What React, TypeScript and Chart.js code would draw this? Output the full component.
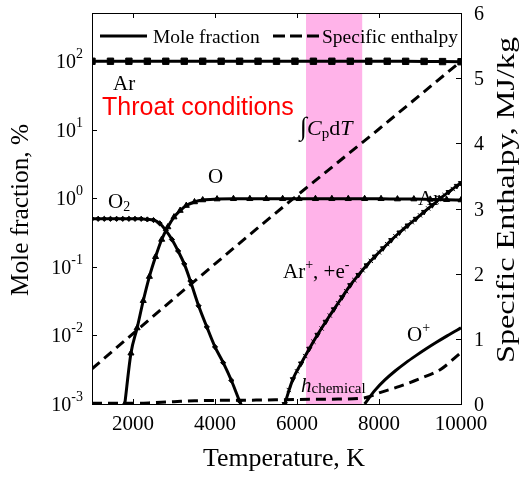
import React, { useEffect, useRef } from 'react';
import { Chart, registerables } from 'chart.js';

Chart.register(...registerables);

// ---------------- data ----------------
const bandRange = [6220, 7590];

const xTicks = [2000, 4000, 6000, 8000, 10000];
const leftExponents = [2, 1, 0, -1, -2, -3];
const rightTicks = [0, 1, 2, 3, 4, 5, 6];

const arTemp = [1000, 1450, 1900, 2350, 2800, 3250, 3700, 4150, 4600, 5050, 5500, 5950, 6400, 6850, 7300, 7750, 8200, 8650, 9100, 9550, 10000];
const arFrac = [99, 99, 99, 99, 99, 99, 99, 99, 99, 99, 99, 99, 99, 99, 99, 99, 99, 98.8, 98.5, 98, 97.5];

const o2Temp = [1000, 1150, 1300, 1450, 1600, 1750, 1900, 2050, 2200, 2350, 2500, 2650, 2800, 2950, 3100, 3250, 3400, 3600, 3800, 4000, 4200, 4400, 4600, 4800];
const o2Frac = [0.5, 0.5, 0.5, 0.5, 0.5, 0.5, 0.5, 0.5, 0.5, 0.49, 0.48, 0.43, 0.34, 0.25, 0.17, 0.11, 0.062, 0.027, 0.0133, 0.0068, 0.004, 0.0022, 0.0011, 0.0006];

const oTemp = [1800, 1950, 2100, 2250, 2400, 2550, 2700, 2850, 3000, 3150, 3300, 3500, 3700, 4050, 4450, 4850, 5250, 5650, 6050, 6450, 6850, 7250, 7650, 8050, 8450, 8850, 9250, 9650, 10000];
const oFrac = [0.001, 0.0055, 0.0128, 0.032, 0.072, 0.14, 0.25, 0.38, 0.53, 0.66, 0.78, 0.88, 0.94, 0.97, 0.98, 0.98, 0.98, 0.98, 0.98, 0.98, 0.98, 0.98, 0.98, 0.98, 0.97, 0.97, 0.96, 0.95, 0.94];

const arIonTemp = [5700, 5900, 6100, 6300, 6500, 6700, 6900, 7100, 7300, 7500, 7700, 7900, 8100, 8300, 8500, 8700, 8900, 9100, 9300, 9500, 9700, 9900, 10000];
const arIonFrac = [0.001, 0.0023, 0.0039, 0.0064, 0.0102, 0.0158, 0.024, 0.036, 0.054, 0.076, 0.105, 0.141, 0.186, 0.245, 0.316, 0.4, 0.5, 0.63, 0.79, 1.0, 1.23, 1.51, 1.66];

const elecTemp = [5800, 6000, 6200, 6400, 6600, 6800, 7000, 7200, 7400, 7600, 7800, 8000, 8200, 8400, 8600, 8800, 9000, 9200, 9400, 9600, 9800];
const elecFrac = [0.0016, 0.003, 0.005, 0.0081, 0.0126, 0.0195, 0.0295, 0.044, 0.064, 0.089, 0.122, 0.162, 0.214, 0.279, 0.355, 0.447, 0.562, 0.708, 0.89, 1.11, 1.36];

const oIonTemp = [7650, 7900, 8150, 8400, 8650, 8900, 9150, 9400, 9650, 9900, 10000];
const oIonFrac = [0.001, 0.00158, 0.00226, 0.00305, 0.00398, 0.00507, 0.00638, 0.00794, 0.00977, 0.0119, 0.0129];

const hTemp = [1000, 2000, 3000, 4000, 5000, 6000, 7000, 8000, 9000, 10000];
const hTotal = [0.54, 1.08, 1.62, 2.15, 2.68, 3.2, 3.71, 4.22, 4.74, 5.26];

const hcTemp = [1000, 2000, 2500, 3000, 3500, 4000, 5000, 6000, 7000, 7600, 7800, 8000, 8500, 9000, 9500, 10000];
const hChem = [0.01, 0.01, 0.02, 0.035, 0.05, 0.055, 0.06, 0.07, 0.075, 0.09, 0.12, 0.17, 0.27, 0.39, 0.53, 0.79];

// ---------------- helpers ----------------
const SERIF = '"Liberation Serif", "Times New Roman", serif';
const SANS = '"Liberation Sans", Arial, sans-serif';

const pts = (xs: number[], ys: number[]) => xs.map((x, i) => ({ x, y: ys[i] }));

type Seg = { t: string; size: number; italic?: boolean; dy?: number };
function rich(ctx: CanvasRenderingContext2D, x: number, y: number, segs: Seg[], measureOnly = false) {
  let cx = x;
  for (const s of segs) {
    ctx.font = `${s.italic ? 'italic ' : ''}${s.size}px ${SERIF}`;
    if (!measureOnly) ctx.fillText(s.t, cx, y + (s.dy || 0));
    cx += ctx.measureText(s.t).width;
  }
  return cx - x;
}

// draw text centred at (cx, cy), rotated, stretched along its direction to a target length
function fitText(ctx: CanvasRenderingContext2D, text: string, cx: number, cy: number, size: number, len: number, rot: number) {
  ctx.save();
  ctx.font = `${size}px ${SERIF}`;
  ctx.textAlign = 'center';
  ctx.textBaseline = 'middle';
  const w = ctx.measureText(text).width;
  ctx.translate(cx, cy);
  ctx.rotate(rot);
  ctx.scale(len / w, 1);
  ctx.fillText(text, 0, 0);
  ctx.restore();
}

const deco = {
  id: 'deco',
  beforeDatasetsDraw(chart: any) {
    const { ctx, chartArea: a, scales } = chart;
    const xs = scales.x;
    ctx.save();
    // throat band
    const x1 = xs.getPixelForValue(bandRange[0]);
    const x2 = xs.getPixelForValue(bandRange[1]);
    ctx.fillStyle = '#FFB3E9';
    ctx.fillRect(x1, a.top, x2 - x1, a.bottom - a.top);

    // annotations
    ctx.fillStyle = '#000';
    ctx.textAlign = 'left';
    ctx.textBaseline = 'alphabetic';
    const F = 21;
    rich(ctx, 113, 90, [{ t: 'Ar', size: F }]);
    rich(ctx, 208, 183, [{ t: 'O', size: F }]);
    rich(ctx, 108, 208, [{ t: 'O', size: F }, { t: '2', size: 14, dy: 3 }]);
    rich(ctx, 418, 205, [{ t: 'Ar', size: F }]);
    rich(ctx, 283, 278, [
      { t: 'Ar', size: F },
      { t: '+', size: 14, dy: -9 },
      { t: ', +e', size: F },
      { t: '-', size: 14, dy: -9 },
    ]);
    rich(ctx, 407, 341, [{ t: 'O', size: F }, { t: '+', size: 14, dy: -9 }]);
    rich(ctx, 301, 392, [{ t: 'h', size: F, italic: true }, { t: 'chemical', size: 15, dy: 1 }]);
    rich(ctx, 300, 135, [
      { t: '\u222B', size: 26 },
      { t: 'C', size: 22, italic: true },
      { t: 'p', size: 15, dy: 3 },
      { t: 'd', size: 22 },
      { t: 'T', size: 22, italic: true },
    ]);
    ctx.fillStyle = '#FF0000';
    ctx.font = `25px ${SANS}`;
    ctx.fillText('Throat conditions', 102, 115);
    ctx.restore();
  },
  afterDatasetsDraw(chart: any) {
    const { ctx, chartArea: a, scales } = chart;
    const xs = scales.x, ys = scales.y, y2 = scales.y2;
    ctx.save();
    ctx.strokeStyle = '#000';
    ctx.fillStyle = '#000';
    ctx.lineWidth = 1;
    // frame
    ctx.strokeRect(Math.round(a.left) + 0.5, Math.round(a.top) + 0.5, Math.round(a.right - a.left), Math.round(a.bottom - a.top));
    const TL = 5;
    ctx.beginPath();
    for (const t of xTicks) {
      const px = Math.round(xs.getPixelForValue(t)) + 0.5;
      ctx.moveTo(px, a.bottom); ctx.lineTo(px, a.bottom - TL);
      ctx.moveTo(px, a.top); ctx.lineTo(px, a.top + TL);
    }
    for (const e of leftExponents) {
      const py = Math.round(ys.getPixelForValue(Math.pow(10, e))) + 0.5;
      ctx.moveTo(a.left, py); ctx.lineTo(a.left + TL, py);
    }
    for (const v of rightTicks) {
      const py = Math.round(y2.getPixelForValue(v)) + 0.5;
      ctx.moveTo(a.right, py); ctx.lineTo(a.right - TL, py);
    }
    ctx.stroke();

    // x tick labels
    ctx.textAlign = 'center';
    ctx.textBaseline = 'alphabetic';
    ctx.font = `21px ${SERIF}`;
    for (const t of xTicks) {
      ctx.fillText(String(t), xs.getPixelForValue(t), 430);
    }
    // left tick labels
    ctx.textAlign = 'left';
    for (const e of leftExponents) {
      const py = ys.getPixelForValue(Math.pow(10, e));
      const segs: Seg[] = [{ t: '10', size: 20 }, { t: String(e), size: 14, dy: -10 }];
      const w = rich(ctx, 0, 0, segs, true);
      rich(ctx, 83 - w, py + 7, segs);
    }
    // right tick labels
    ctx.font = `20px ${SERIF}`;
    for (const v of rightTicks) {
      const py = y2.getPixelForValue(v);
      ctx.fillText(String(v), 474, py + 7);
    }
    // axis titles
    fitText(ctx, 'Temperature, K', 284, 459, 25, 162, 0);
    fitText(ctx, 'Mole fraction, %', 21, 210, 25, 172, -Math.PI / 2);
    fitText(ctx, 'Specific Enthalpy, MJ/kg', 507, 200, 25, 326, -Math.PI / 2);

    // legend
    ctx.textBaseline = 'alphabetic';
    ctx.textAlign = 'left';
    ctx.lineWidth = 3;
    ctx.beginPath();
    ctx.moveTo(100, 36); ctx.lineTo(147, 36);
    ctx.stroke();
    ctx.setLineDash([12, 5]);
    ctx.beginPath();
    ctx.moveTo(273, 36); ctx.lineTo(319, 36);
    ctx.stroke();
    ctx.setLineDash([]);
    ctx.font = `19.5px ${SERIF}`;
    ctx.fillText('Mole fraction', 153, 43);
    ctx.fillText('Specific enthalpy', 322, 43);
    ctx.restore();
  },
};

export default function App() {
  const ref = useRef<HTMLCanvasElement>(null);
  useEffect(() => {
    const canvas = ref.current!;
    const solid = {
      borderColor: '#000',
      backgroundColor: '#000',
      pointBackgroundColor: '#000',
      pointBorderColor: '#000',
      borderWidth: 3,
      yAxisID: 'y',
      cubicInterpolationMode: 'monotone' as const,
    };
    const chart = new Chart(canvas, {
      type: 'line',
      data: {
        datasets: [
          { ...solid, label: 'Ar', data: pts(arTemp, arFrac), pointStyle: 'rect', pointRadius: 4.5, pointBorderWidth: 1 },
          { ...solid, label: 'O2', data: pts(o2Temp, o2Frac), pointStyle: 'rectRot', pointRadius: 2.6, pointBorderWidth: 1 },
          { ...solid, label: 'O', data: pts(oTemp, oFrac), pointStyle: 'triangle', pointRadius: 3.5, pointBorderWidth: 1 },
          { ...solid, label: 'Ar+', data: pts(arIonTemp, arIonFrac), pointStyle: 'triangle', pointRotation: 180, pointRadius: 3, pointBorderWidth: 1 },
          { ...solid, label: 'e-', data: pts(elecTemp, elecFrac), showLine: false, pointStyle: 'crossRot', pointRadius: 3, pointBorderWidth: 1 },
          { ...solid, label: 'O+', data: pts(oIonTemp, oIonFrac), pointRadius: 0 },
          {
            label: 'Specific enthalpy', data: pts(hTemp, hTotal), yAxisID: 'y2',
            borderColor: '#000', borderWidth: 3, borderDash: [10, 6], pointRadius: 0,
          },
          {
            label: 'h chemical', data: pts(hcTemp, hChem), yAxisID: 'y2',
            borderColor: '#000', borderWidth: 3, borderDash: [10, 6], pointRadius: 0,
            cubicInterpolationMode: 'monotone' as const,
          },
        ],
      },
      options: {
        responsive: false,
        animation: false,
        devicePixelRatio: 1,
        layout: { padding: { left: 92, right: 59, top: 13, bottom: 73 } },
        plugins: { legend: { display: false }, tooltip: { enabled: false } },
        events: [],
        scales: {
          x: { type: 'linear', min: 1000, max: 10000, display: false },
          y: { type: 'logarithmic', min: 0.001, max: 500, display: false },
          y2: { type: 'linear', min: 0, max: 6, display: false, position: 'right' },
        },
      },
      plugins: [deco],
    } as any);
    return () => chart.destroy();
  }, []);
  return (
    <div style={{ position: 'absolute', left: 0, top: 0, width: 520, height: 477, background: '#fff' }}>
      <canvas ref={ref} width={520} height={477} style={{ width: 520, height: 477, display: 'block' }} />
    </div>
  );
}
